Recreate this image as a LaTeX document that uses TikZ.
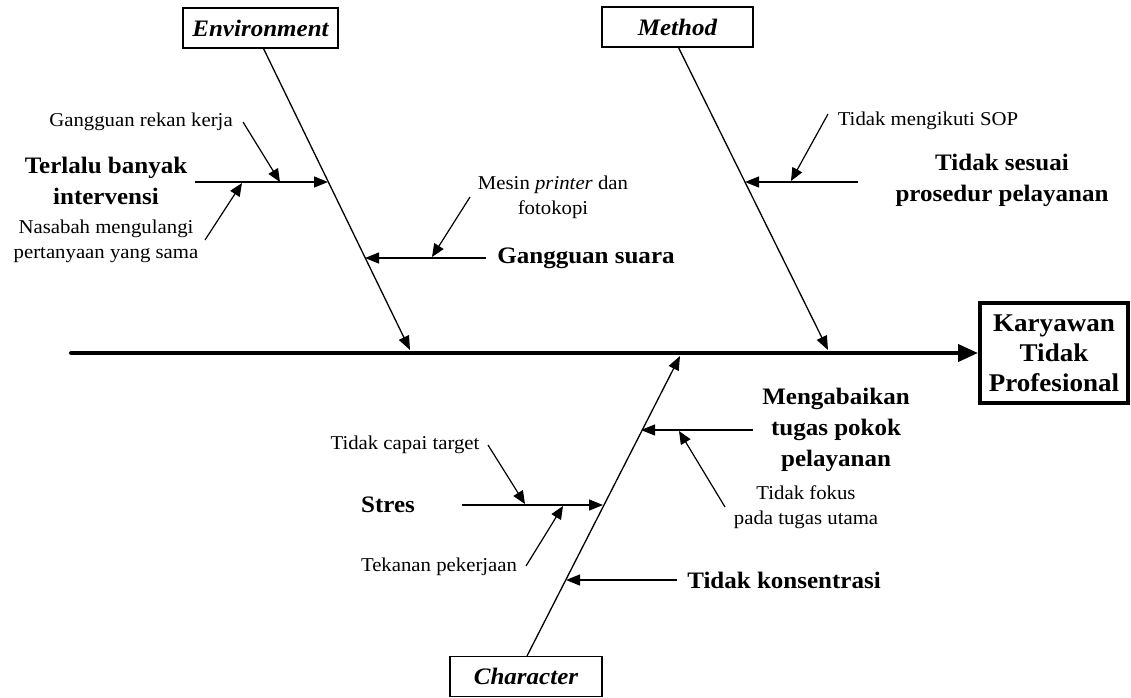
\documentclass[tikz,border=0pt]{standalone}
\usepackage{fontspec}
\setmainfont{Liberation Serif}[FakeStretch=1.06]
\usetikzlibrary{arrows.meta,calc}
\begin{document}
\begin{tikzpicture}[x=1pt,y=-1pt,
  small/.style={font=\fontsize{19.6}{25}\selectfont, align=center, inner sep=0pt},
  cause/.style={font=\bfseries\fontsize{23.6}{31}\selectfont, align=center, inner sep=0pt},
  catbox/.style={draw, line width=1.1pt, minimum height=40pt, inner sep=0pt,
     font=\bfseries\itshape\fontsize{23.6}{27}\selectfont},
  resbox/.style={draw, line width=4pt, minimum width=148pt, minimum height=100pt, inner sep=0pt,
     align=center, font=\bfseries\fontsize{25.5}{30}\selectfont},
  bone/.style={line width=1.3pt, -{Triangle[length=14pt,width=11pt]}},
  subbone/.style={line width=1.2pt, -{Triangle[length=13pt,width=11pt]}},
  spine/.style={line width=4pt, line cap=round, -{Triangle[length=20pt,width=17pt]}}
]
\useasboundingbox (0,0) rectangle (1131,697);

% category boxes
\node[catbox, minimum width=155pt] (env) at (260.5,28) {Environment};
\node[catbox, minimum width=151pt] (met) at (677.5,27) {Method};
\node[catbox, minimum width=152pt] (cha) at (526,676.5) {Character};
\node[resbox] (res) at (1054,353) {Karyawan\\Tidak\\Profesional};

% spine
\coordinate (s0) at (71,353);
\draw[spine] (s0) -- (res.west);

% main bones
\coordinate (envhead) at (410,350);
\coordinate (methead) at (828,350);
\coordinate (chahead) at (680,356);
\draw[bone] ([xshift=3pt]env.south) -- (envhead);
\draw[bone] ([xshift=1pt]met.south) -- (methead);
\draw[bone] ([xshift=1pt]cha.north) -- (chahead);

% Environment causes
\node[cause] (c1) at (106,181) {Terlalu banyak\\intervensi};
\coordinate (c1s) at (195,182);
\coordinate (c1e) at (328,182);
\draw[bone] (c1s) -- (c1e);
\node[small] (t1) at (141,122) {Gangguan rekan kerja};
\coordinate (t1s) at (243,122);
\coordinate (t1e) at (280,182);
\draw[subbone] (t1s) -- (t1e);
\node[small] (t2) at (106,241) {Nasabah mengulangi\\pertanyaan yang sama};
\coordinate (t2s) at (205,240);
\coordinate (t2e) at (242,183);
\draw[subbone] (t2s) -- (t2e);

\node[cause] (c2) at (586,258) {Gangguan suara};
\coordinate (c2s) at (486,258);
\coordinate (c2e) at (365,258);
\draw[bone] (c2s) -- (c2e);
\node[small] (t3) at (553,197) {Mesin \textit{printer} dan\\fotokopi};
\coordinate (t3s) at (470,197);
\coordinate (t3e) at (432,257);
\draw[subbone] (t3s) -- (t3e);

% Method causes
\node[cause] (c3) at (1002,180) {Tidak sesuai\\prosedur pelayanan};
\coordinate (c3s) at (858,182);
\coordinate (c3e) at (745,182);
\draw[bone] (c3s) -- (c3e);
\node[small] (t4) at (928,121) {Tidak mengikuti SOP};
\coordinate (t4s) at (828,114);
\coordinate (t4e) at (791,181);
\draw[subbone] (t4s) -- (t4e);

% Character causes
\node[cause] (c4) at (836,430) {Mengabaikan\\tugas pokok\\pelayanan};
\coordinate (c4s) at (753,430);
\coordinate (c4e) at (641,430);
\draw[bone] (c4s) -- (c4e);
\node[small] (t5) at (806,507) {Tidak fokus\\pada tugas utama};
\coordinate (t5s) at (725,507);
\coordinate (t5e) at (679,431);
\draw[subbone] (t5s) -- (t5e);

\node[cause] (c5) at (388,505) {Stres};
\coordinate (c5s) at (462,505);
\coordinate (c5e) at (603,505);
\draw[bone] (c5s) -- (c5e);
\node[small] (t6) at (405,445) {Tidak capai target};
\coordinate (t6s) at (488,445);
\coordinate (t6e) at (525,504);
\draw[subbone] (t6s) -- (t6e);
\node[small] (t7) at (439,567) {Tekanan pekerjaan};
\coordinate (t7s) at (526,566);
\coordinate (t7e) at (563,506);
\draw[subbone] (t7s) -- (t7e);

\node[cause] (c6) at (784,580) {Tidak konsentrasi};
\coordinate (c6s) at (677,580);
\coordinate (c6e) at (566,580);
\draw[bone] (c6s) -- (c6e);
\end{tikzpicture}
\end{document}
